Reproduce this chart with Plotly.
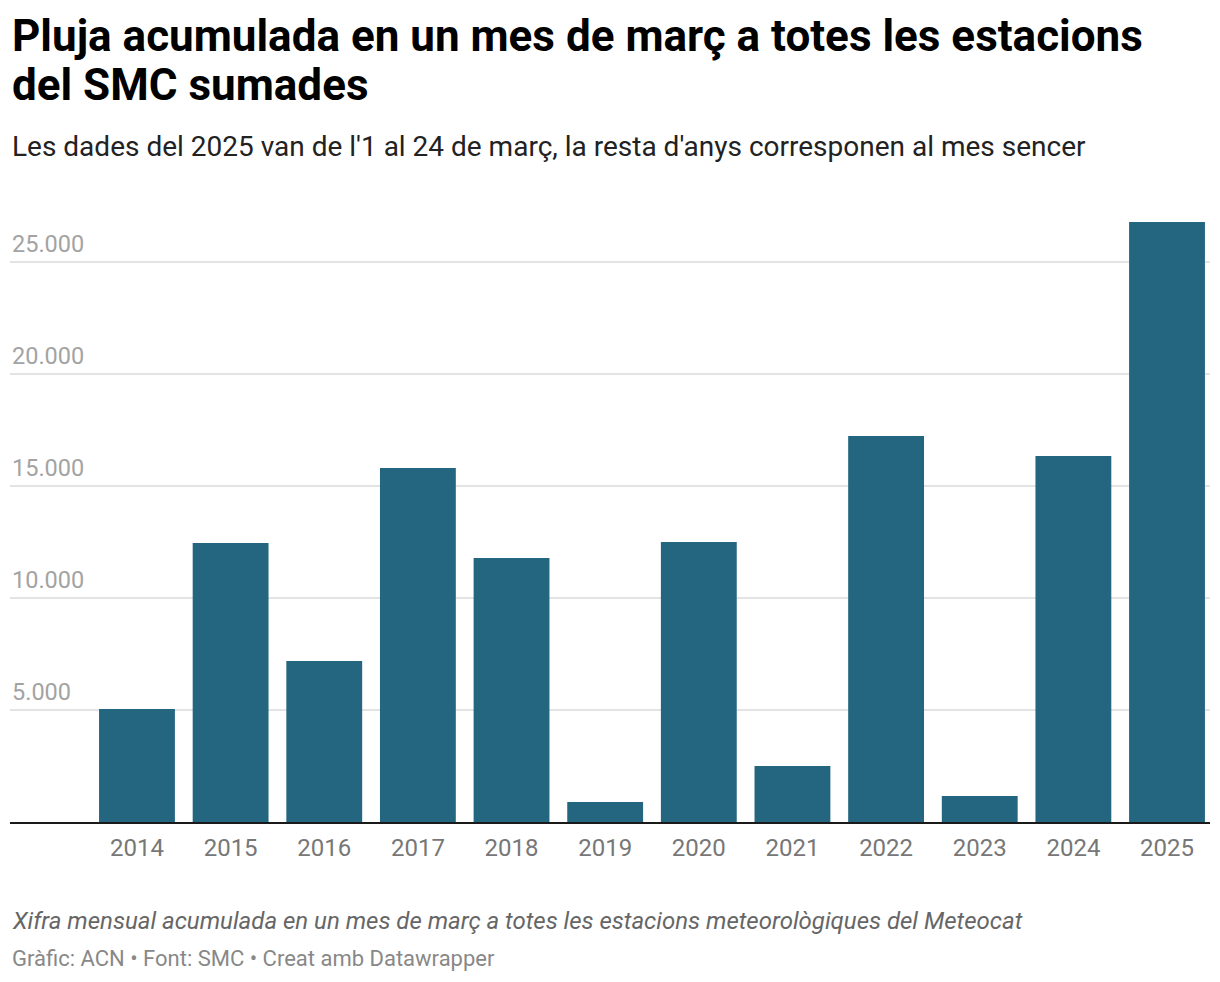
import plotly.graph_objects as go

years = [2014, 2015, 2016, 2017, 2018, 2019, 2020, 2021, 2022, 2023, 2024, 2025]
rain = [5040, 12450, 7190, 15800, 11790, 890, 12500, 2500, 17230, 1160, 16340, 26790]
ytick_vals = [5000, 10000, 15000, 20000, 25000]
ytick_text = ["5.000", "10.000", "15.000", "20.000", "25.000"]

OFF = 8  # page body margin
W, H = 1220 - OFF, 982 - OFF
top, bottom = 217 - OFF, 822 - OFF
ph = bottom - top

def py(p):
    return (bottom - (p - OFF)) / ph

fig = go.Figure()
fig.add_trace(go.Bar(x=years, y=rain, marker_color="#24657f", width=0.81,
                     marker_line_width=0, hoverinfo="x+y"))

ann = []
for v, t in zip(ytick_vals, ytick_text):
    ann.append(dict(x=0, xref="paper", y=v, yref="y", text=t, showarrow=False,
                    xanchor="left", yanchor="bottom", yshift=2,
                    font=dict(family="Roboto", size=23.5, color="#a3a3a3")))

ann += [
    dict(x=0, xref="paper", y=py(36), yref="paper", text="<b>Pluja acumulada en un mes de març a totes les estacions</b>",
         showarrow=False, xanchor="left", yanchor="middle",
         font=dict(family="Roboto", size=44, color="#000")),
    dict(x=0, xref="paper", y=py(85), yref="paper", text="<b>del SMC sumades</b>",
         showarrow=False, xanchor="left", yanchor="middle",
         font=dict(family="Roboto", size=44, color="#000")),
    dict(x=0, xref="paper", y=py(147), yref="paper",
         text="Les dades del 2025 van de l'1 al 24 de març, la resta d'anys corresponen al mes sencer",
         showarrow=False, xanchor="left", yanchor="middle",
         font=dict(family="Roboto", size=28, color="#222")),
    dict(x=0, xref="paper", y=py(921), yref="paper",
         text="<i>Xifra mensual acumulada en un mes de març a totes les estacions meteorològiques del Meteocat</i>",
         showarrow=False, xanchor="left", yanchor="middle",
         font=dict(family="Roboto", size=24, color="#666")),
    dict(x=0, xref="paper", y=py(958), yref="paper",
         text="Gràfic: ACN • Font: SMC • Creat amb Datawrapper",
         showarrow=False, xanchor="left", yanchor="middle",
         font=dict(family="Roboto", size=22, color="#888")),
]

fig.update_layout(
    width=W, height=H,
    margin=dict(l=10 - OFF, r=10, t=top, b=H - bottom, pad=0),
    paper_bgcolor="white", plot_bgcolor="white",
    showlegend=False,
    annotations=ann,
    font=dict(family="Roboto"),
    xaxis=dict(range=[2012.644, 2025.459], tickmode="array", tickvals=years,
               ticktext=[str(y) for y in years], showgrid=False, zeroline=False,
               showline=True, linecolor="#1a1a1a", linewidth=2,
               ticks="outside", ticklen=3, tickcolor="rgba(0,0,0,0)",
               tickfont=dict(family="Roboto", size=24, color="#777"), fixedrange=True),
    yaxis=dict(range=[0, ph / 112 * 5000], tickmode="array", tickvals=ytick_vals,
               showticklabels=False, showgrid=True, gridcolor="#e3e3e3", gridwidth=1.5,
               zeroline=False, fixedrange=True),
)

fig.write_html("out.html")
